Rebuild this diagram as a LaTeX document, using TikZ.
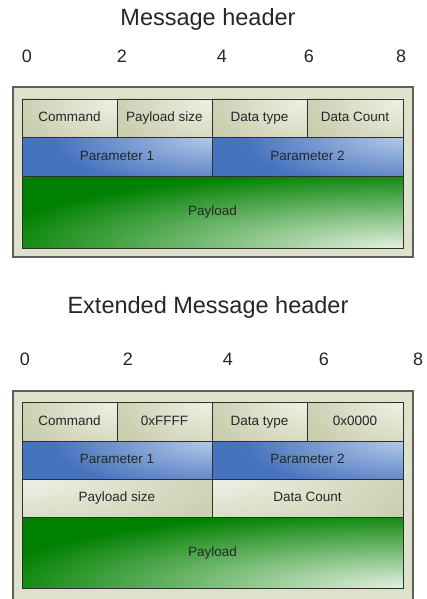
\documentclass[tikz,border=0pt]{standalone}
\usepackage{fontspec}
\setmainfont{Liberation Sans}

\definecolor{framefill}{HTML}{DEE1CB}
\definecolor{framedraw}{HTML}{5C5E58}
\definecolor{celldraw}{HTML}{2E302C}
\definecolor{olD}{HTML}{C9CDAD}
\definecolor{olL}{HTML}{EFF0E5}
\definecolor{blD}{HTML}{4673BE}
\definecolor{blL}{HTML}{B3C8E8}
\definecolor{grD}{HTML}{008000}
\definecolor{grL}{HTML}{E4F1E0}
\definecolor{inktext}{HTML}{262626}

\tikzset{
  frame/.style={draw=framedraw, fill=framefill, line width=1.3pt},
  cell/.style={draw=celldraw, line width=0.9pt, inner sep=0pt, rectangle,
    font=\fontsize{13.5}{15}\selectfont, text=inktext,
    text height=0.72em, text depth=0pt},
  % base colour with a soft elliptic glow centred on one corner:
  % #1 corner anchor, #2 glow colour, #3 base colour, #4/#5 glow radii
  glowcell/.style n args={5}{cell, path picture={
      \fill[#3] (path picture bounding box.south west) rectangle (path picture bounding box.north east);
      \shade[inner color=#2, outer color=#3]
        (path picture bounding box.#1) ellipse [x radius=#4, y radius=#5];}},
  olive/.style={glowcell={north east}{olL}{olD}{105pt}{62pt}},
  oliverev/.style={glowcell={north west}{olL}{olD}{230pt}{70pt}},
  bluecell/.style={glowcell={north east}{blL}{blD}{160pt}{52pt}},
  greencell/.style={glowcell={south east}{grL}{grD}{420pt}{78pt}},
  title/.style={anchor=base, font=\fontsize{23.5}{26}\selectfont, text=inktext, inner sep=0pt},
  tick/.style={anchor=base, font=\fontsize{18}{20}\selectfont, text=inktext, inner sep=0pt},
}

\begin{document}
\begin{tikzpicture}[x=1pt, y=-1pt]
\useasboundingbox (0,0) rectangle (427,599);
\fill[white] (0,0) rectangle (427,599);

% ---------- Message header ----------
\node[title] (t1) at (208,26) {Message header};
\node[tick] (a0) at (27,63) {0};
\node[tick] (a2) at (122,63) {2};
\node[tick] (a4) at (222,63) {4};
\node[tick] (a6) at (309,63) {6};
\node[tick] (a8) at (401,63) {8};

\node[frame, minimum width=400pt, minimum height=170pt, inner sep=0pt] (box1) at (213,172) {};

\node[olive, minimum width=95pt, minimum height=38pt] (cmd1) at (69.5,118) {Command};
\node[olive, minimum width=95pt, minimum height=38pt] (psz1) at (164.5,118) {Payload size};
\node[olive, minimum width=95pt, minimum height=38pt] (dty1) at (259.5,118) {Data type};
\node[olive, minimum width=96pt, minimum height=38pt] (dct1) at (355,118) {Data Count};

\node[bluecell, minimum width=190pt, minimum height=39pt] (par1a) at (117,156.5) {Parameter 1};
\node[bluecell, minimum width=191pt, minimum height=39pt] (par1b) at (307.5,156.5) {Parameter 2};

\node[greencell, minimum width=381pt, minimum height=72pt] (pay1) at (212.5,212) {Payload};

% ---------- Extended Message header ----------
\node[title] (t2) at (208,313) {Extended Message header};
\node[tick] (b0) at (25,365) {0};
\node[tick] (b2) at (128,365) {2};
\node[tick] (b4) at (228,365) {4};
\node[tick] (b6) at (324,365) {6};
\node[tick] (b8) at (418,365) {8};

\node[frame, minimum width=400pt, minimum height=220pt, inner sep=0pt] (box2) at (213,501) {};

\node[olive, minimum width=95pt, minimum height=39pt] (cmd2) at (69.5,421.5) {Command};
\node[olive, minimum width=95pt, minimum height=39pt] (ffff) at (164.5,421.5) {0xFFFF};
\node[olive, minimum width=95pt, minimum height=39pt] (dty2) at (259.5,421.5) {Data type};
\node[olive, minimum width=96pt, minimum height=39pt] (zero) at (355,421.5) {0x0000};

\node[bluecell, minimum width=190pt, minimum height=38pt] (par2a) at (117,460) {Parameter 1};
\node[bluecell, minimum width=191pt, minimum height=38pt] (par2b) at (307.5,460) {Parameter 2};

\node[oliverev, minimum width=190pt, minimum height=38pt] (psz2) at (117,498) {Payload size};
\node[oliverev, minimum width=191pt, minimum height=38pt] (dct2) at (307.5,498) {Data Count};

\node[greencell, minimum width=381pt, minimum height=71pt] (pay2) at (212.5,552.5) {Payload};
\end{tikzpicture}
\end{document}
